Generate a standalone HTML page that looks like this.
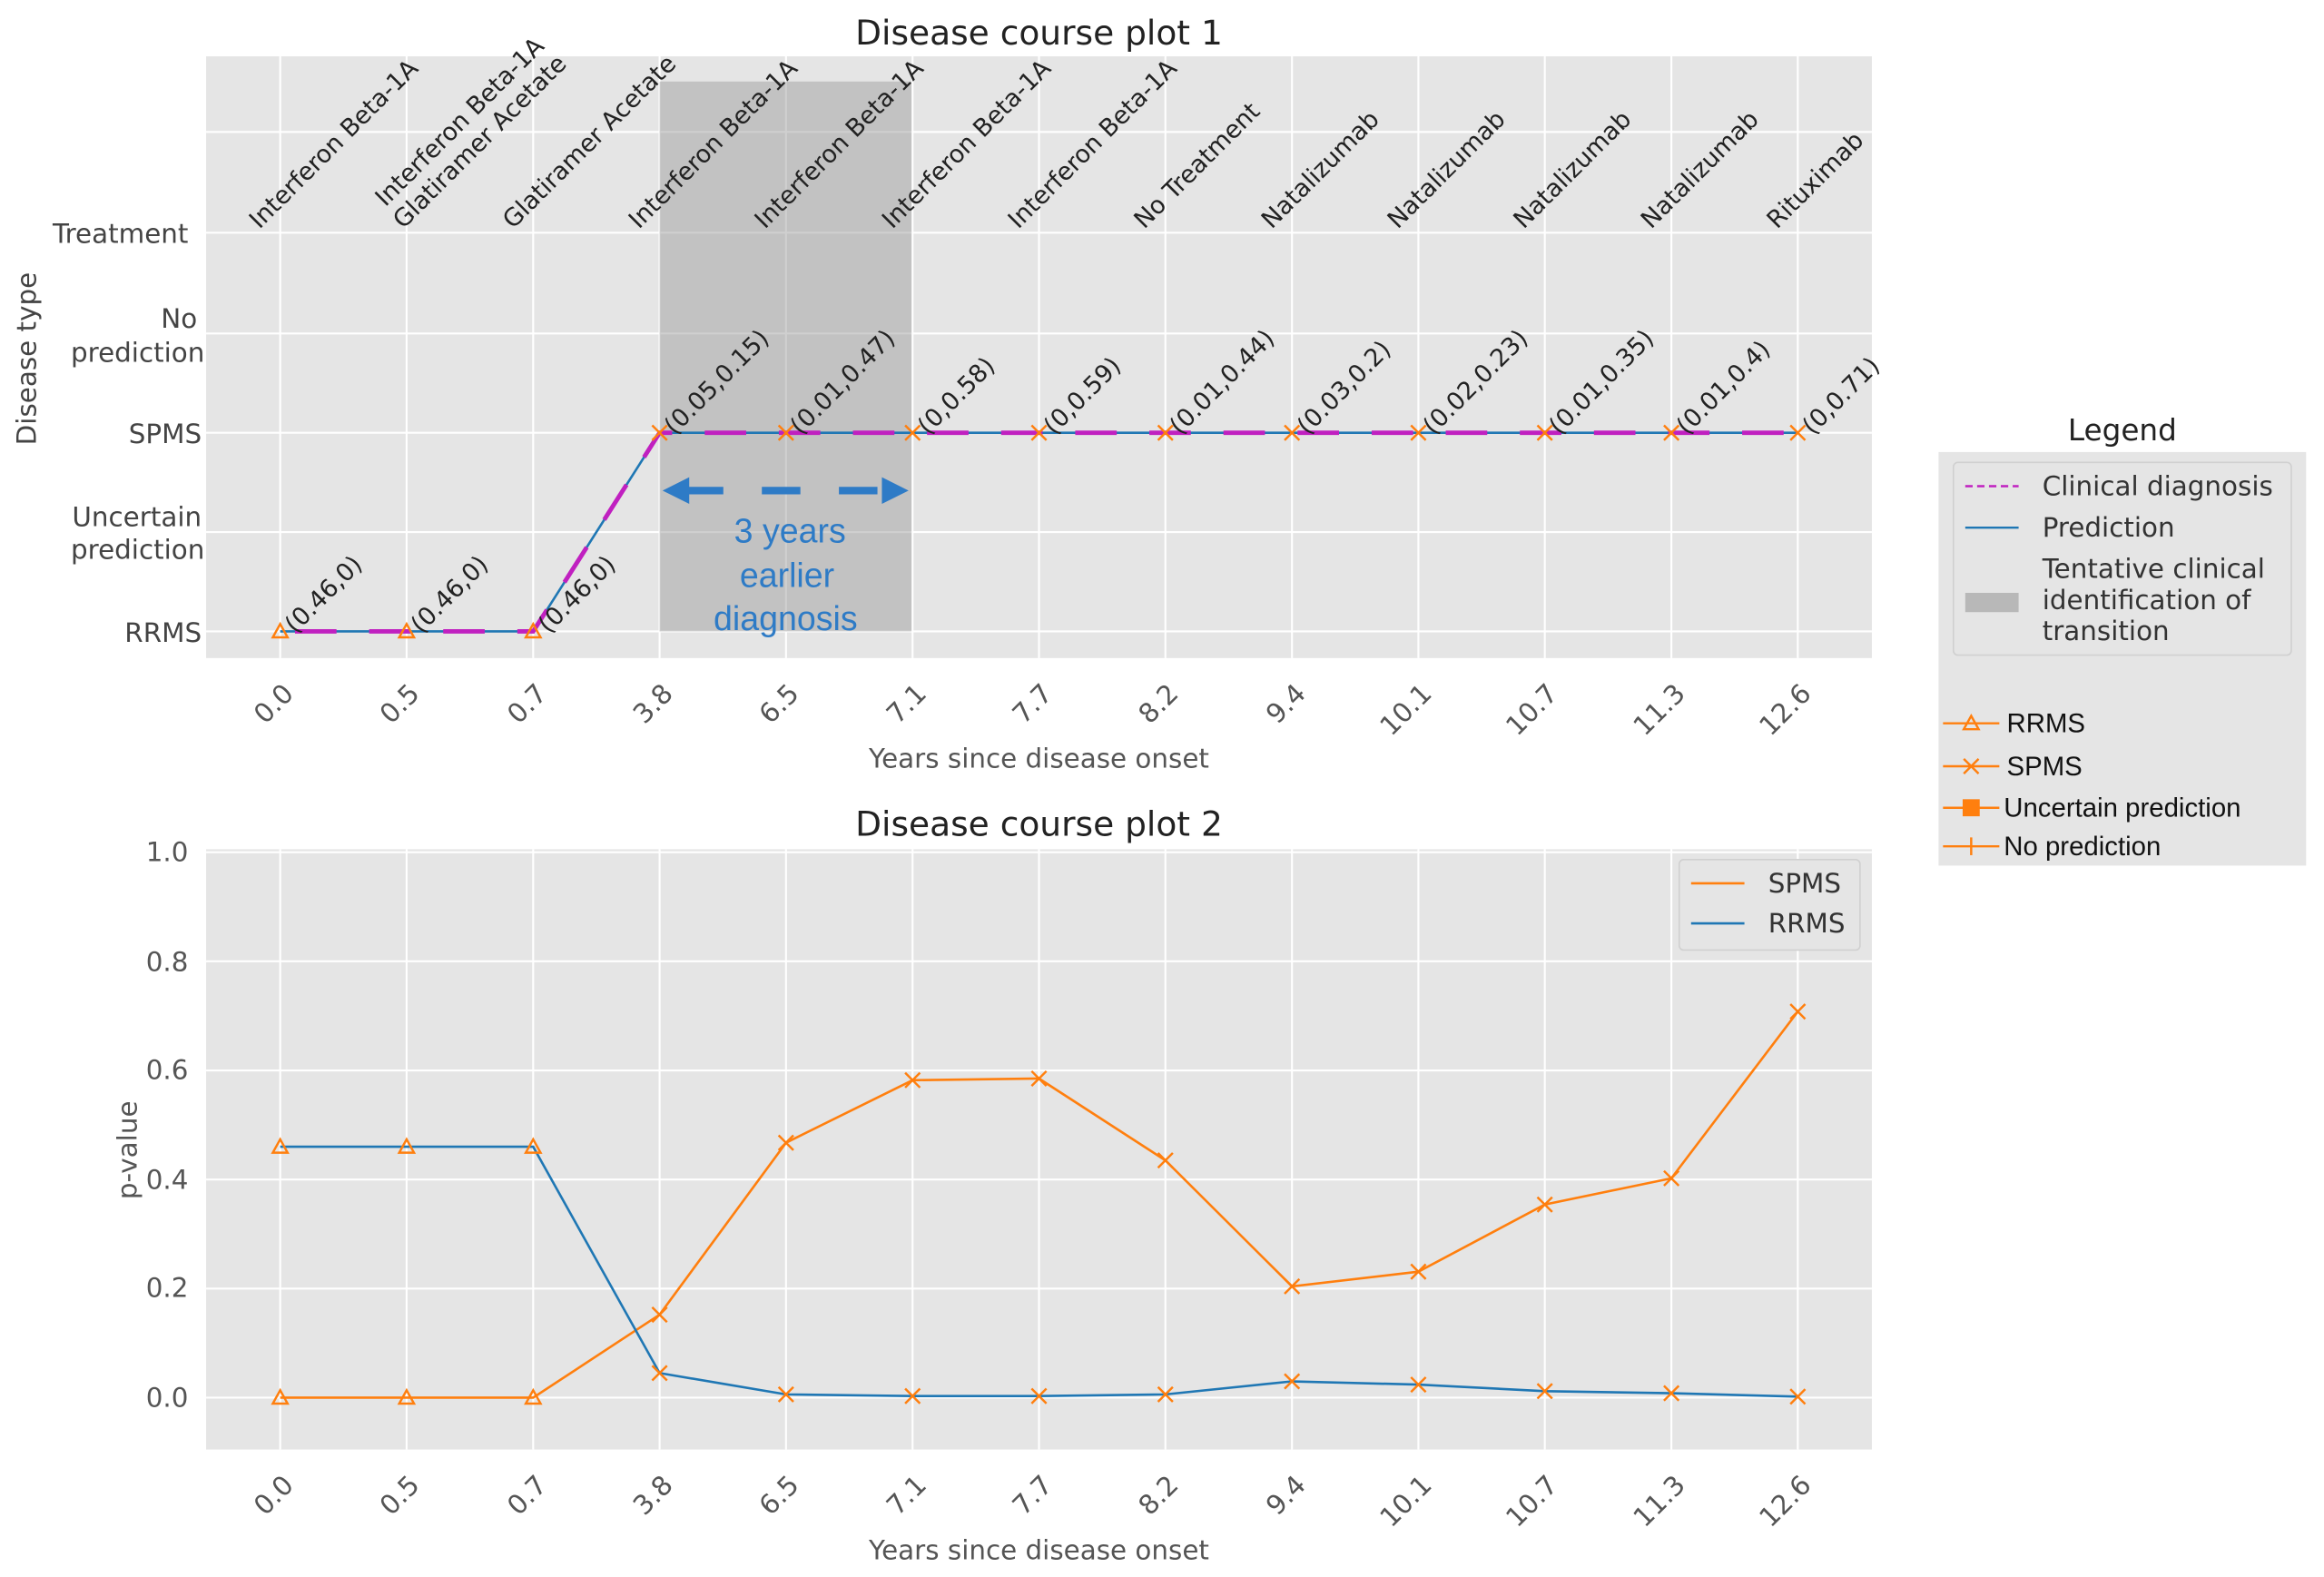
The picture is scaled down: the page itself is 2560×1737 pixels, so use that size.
<!DOCTYPE html>
<html><head><style>html,body{margin:0;padding:0;background:#fff}svg{display:block}</style></head><body>
<svg width="2560" height="1737" viewBox="0 0 1568 1064" xmlns="http://www.w3.org/2000/svg" font-family="DejaVu Sans, Liberation Sans, sans-serif">
<rect width="1568" height="1064" fill="#fff"/>
<!-- Plot 1 -->
<text x="701" y="30" font-size="23" text-anchor="middle" fill="#222">Disease course plot 1</text>
<rect x="139" y="38" width="1124" height="406" fill="#e5e5e5"/>
<g stroke="#fff" stroke-width="1.3">
<line x1="139" x2="1263" y1="89" y2="89"/><line x1="139" x2="1263" y1="157" y2="157"/><line x1="139" x2="1263" y1="225" y2="225"/><line x1="139" x2="1263" y1="292" y2="292"/><line x1="139" x2="1263" y1="359" y2="359"/><line x1="139" x2="1263" y1="426" y2="426"/>
<line x1="189" x2="189" y1="38" y2="444"/><line x1="274.3" x2="274.3" y1="38" y2="444"/><line x1="359.7" x2="359.7" y1="38" y2="444"/><line x1="445" x2="445" y1="38" y2="444"/><line x1="530.3" x2="530.3" y1="38" y2="444"/><line x1="615.7" x2="615.7" y1="38" y2="444"/><line x1="701" x2="701" y1="38" y2="444"/><line x1="786.3" x2="786.3" y1="38" y2="444"/><line x1="871.7" x2="871.7" y1="38" y2="444"/><line x1="957" x2="957" y1="38" y2="444"/><line x1="1042.3" x2="1042.3" y1="38" y2="444"/><line x1="1127.7" x2="1127.7" y1="38" y2="444"/><line x1="1213" x2="1213" y1="38" y2="444"/>
</g>
<rect x="445" y="55" width="170" height="371" fill="#a0a0a0" fill-opacity="0.5"/>
<g font-size="18" fill="#444" text-anchor="end">
<text x="127" y="164">Treatment</text>
<text x="133" y="221">No</text><text x="138" y="244">prediction</text>
<text x="136" y="299">SPMS</text>
<text x="136" y="355">Uncertain</text><text x="138" y="377">prediction</text>
<text x="136" y="433">RRMS</text>
</g>
<text transform="translate(24,242) rotate(-90)" font-size="18" fill="#444" text-anchor="middle">Disease type</text>
<g font-size="16.5" fill="#222">
<text transform="translate(175,155) rotate(-45)">Interferon Beta-1A</text>
<text transform="translate(260,140) rotate(-45)">Interferon Beta-1A</text>
<text transform="translate(272,155) rotate(-45)">Glatiramer Acetate</text>
<text transform="translate(346,155) rotate(-45)">Glatiramer Acetate</text>
<text transform="translate(431,155) rotate(-45)">Interferon Beta-1A</text>
<text transform="translate(516,155) rotate(-45)">Interferon Beta-1A</text>
<text transform="translate(602,155) rotate(-45)">Interferon Beta-1A</text>
<text transform="translate(687,155) rotate(-45)">Interferon Beta-1A</text>
<text transform="translate(772,155) rotate(-45)">No Treatment</text>
<text transform="translate(858,155) rotate(-45)">Natalizumab</text>
<text transform="translate(943,155) rotate(-45)">Natalizumab</text>
<text transform="translate(1028,155) rotate(-45)">Natalizumab</text>
<text transform="translate(1114,155) rotate(-45)">Natalizumab</text>
<text transform="translate(1199,155) rotate(-45)">Rituximab</text>
</g>
<polyline points="189,426 359.7,426 445,292 1213,292" fill="none" stroke="#1f77b4" stroke-width="1.6"/>
<polyline points="189,426 359.7,426 445,292 1213,292" fill="none" stroke="#c020c0" stroke-width="3" stroke-dasharray="28,22" stroke-dashoffset="-10"/>
<g fill="none" stroke="#ff7f0e" stroke-width="1.5">
<path d="M189,421 l5,9 h-10 z"/><path d="M274.3,421 l5,9 h-10 z"/><path d="M359.7,421 l5,9 h-10 z"/>
<path d="M-5,-5 L5,5 M-5,5 L5,-5" transform="translate(445,292)"/>
<path d="M-5,-5 L5,5 M-5,5 L5,-5" transform="translate(530.3,292)"/><path d="M-5,-5 L5,5 M-5,5 L5,-5" transform="translate(615.7,292)"/><path d="M-5,-5 L5,5 M-5,5 L5,-5" transform="translate(701,292)"/><path d="M-5,-5 L5,5 M-5,5 L5,-5" transform="translate(786.3,292)"/><path d="M-5,-5 L5,5 M-5,5 L5,-5" transform="translate(871.7,292)"/><path d="M-5,-5 L5,5 M-5,5 L5,-5" transform="translate(957,292)"/><path d="M-5,-5 L5,5 M-5,5 L5,-5" transform="translate(1042.3,292)"/><path d="M-5,-5 L5,5 M-5,5 L5,-5" transform="translate(1127.7,292)"/><path d="M-5,-5 L5,5 M-5,5 L5,-5" transform="translate(1213,292)"/>
</g>
<g font-size="16.5" fill="#222">
<text transform="translate(199,428) rotate(-45)">(0.46,0)</text>
<text transform="translate(284,428) rotate(-45)">(0.46,0)</text>
<text transform="translate(370,428) rotate(-45)">(0.46,0)</text>
<text transform="translate(455,294) rotate(-45)">(0.05,0.15)</text>
<text transform="translate(540,294) rotate(-45)">(0.01,0.47)</text>
<text transform="translate(626,294) rotate(-45)">(0,0.58)</text>
<text transform="translate(711,294) rotate(-45)">(0,0.59)</text>
<text transform="translate(796,294) rotate(-45)">(0.01,0.44)</text>
<text transform="translate(882,294) rotate(-45)">(0.03,0.2)</text>
<text transform="translate(967,294) rotate(-45)">(0.02,0.23)</text>
<text transform="translate(1052,294) rotate(-45)">(0.01,0.35)</text>
<text transform="translate(1138,294) rotate(-45)">(0.01,0.4)</text>
<text transform="translate(1223,294) rotate(-45)">(0,0.71)</text>
</g>
<line x1="462" y1="331" x2="597" y2="331" stroke="#2e7bc6" stroke-width="5" stroke-dasharray="26,26"/>
<path d="M447,331 L465,322 L465,340 Z M613,331 L595,322 L595,340 Z" fill="#2e7bc6"/>
<g font-size="23" fill="#2e7bc6" text-anchor="middle" font-family="Liberation Sans, sans-serif">
<text x="533" y="366">3 years</text><text x="531" y="396">earlier</text><text x="530" y="425">diagnosis</text>
</g>
<g font-size="18" fill="#555" text-anchor="end">
<text transform="translate(199,469) rotate(-45)">0.0</text>
<text transform="translate(284,469) rotate(-45)">0.5</text>
<text transform="translate(370,469) rotate(-45)">0.7</text>
<text transform="translate(455,469) rotate(-45)">3.8</text>
<text transform="translate(540,469) rotate(-45)">6.5</text>
<text transform="translate(626,469) rotate(-45)">7.1</text>
<text transform="translate(711,469) rotate(-45)">7.7</text>
<text transform="translate(796,469) rotate(-45)">8.2</text>
<text transform="translate(882,469) rotate(-45)">9.4</text>
<text transform="translate(967,469) rotate(-45)">10.1</text>
<text transform="translate(1052,469) rotate(-45)">10.7</text>
<text transform="translate(1138,469) rotate(-45)">11.3</text>
<text transform="translate(1223,469) rotate(-45)">12.6</text>
</g>
<text x="701" y="518" font-size="18" fill="#555" text-anchor="middle">Years since disease onset</text>
<text x="1432" y="297" font-size="20" fill="#222" text-anchor="middle">Legend</text>
<rect x="1308" y="305" width="248" height="279" fill="#e5e5e5"/>
<rect x="1318" y="312" width="228" height="130" fill="#e5e5e5" stroke="#d0d0d0" rx="3"/>
<line x1="1326" x2="1362" y1="328" y2="328" stroke="#c020c0" stroke-width="1.5" stroke-dasharray="5,3"/>
<line x1="1326" x2="1362" y1="356" y2="356" stroke="#1f77b4" stroke-width="1.5"/>
<rect x="1326" y="400" width="36" height="13" fill="#b8b8b8"/>
<g font-size="18" fill="#333">
<text x="1378" y="334">Clinical diagnosis</text><text x="1378" y="362">Prediction</text>
<text x="1378" y="390">Tentative clinical</text><text x="1378" y="411">identification of</text><text x="1378" y="432">transition</text>
</g>
<g stroke="#ff7f0e" stroke-width="1.5" fill="none">
<line x1="1311" x2="1349" y1="488" y2="488"/><path d="M1330,483 l5,9 h-10 z"/>
<line x1="1311" x2="1349" y1="517" y2="517"/><path d="M1325,512 L1335,522 M1325,522 L1335,512"/>
<line x1="1311" x2="1349" y1="545" y2="545"/><rect x="1325" y="540" width="10" height="10" fill="#ff7f0e"/>
<line x1="1311" x2="1349" y1="571" y2="571"/><path d="M1330,565 v12"/>
</g>
<g font-size="18" fill="#111" font-family="Liberation Sans, sans-serif">
<text x="1354" y="494">RRMS</text><text x="1354" y="523">SPMS</text><text x="1352" y="551">Uncertain prediction</text><text x="1352" y="577">No prediction</text>
</g>
<!-- Plot 2 -->
<text x="701" y="564" font-size="23" text-anchor="middle" fill="#222">Disease course plot 2</text>
<rect x="139" y="573" width="1124" height="405" fill="#e5e5e5"/>
<g stroke="#fff" stroke-width="1.3">
<line x1="139" x2="1263" y1="575" y2="575"/><line x1="139" x2="1263" y1="648.6" y2="648.6"/><line x1="139" x2="1263" y1="722.2" y2="722.2"/><line x1="139" x2="1263" y1="795.8" y2="795.8"/><line x1="139" x2="1263" y1="869.4" y2="869.4"/><line x1="139" x2="1263" y1="943" y2="943"/>
<line x1="189" x2="189" y1="573" y2="978"/><line x1="274.3" x2="274.3" y1="573" y2="978"/><line x1="359.7" x2="359.7" y1="573" y2="978"/><line x1="445" x2="445" y1="573" y2="978"/><line x1="530.3" x2="530.3" y1="573" y2="978"/><line x1="615.7" x2="615.7" y1="573" y2="978"/><line x1="701" x2="701" y1="573" y2="978"/><line x1="786.3" x2="786.3" y1="573" y2="978"/><line x1="871.7" x2="871.7" y1="573" y2="978"/><line x1="957" x2="957" y1="573" y2="978"/><line x1="1042.3" x2="1042.3" y1="573" y2="978"/><line x1="1127.7" x2="1127.7" y1="573" y2="978"/><line x1="1213" x2="1213" y1="573" y2="978"/>
</g>
<g font-size="18" fill="#555" text-anchor="end">
<text x="127" y="581">1.0</text><text x="127" y="655">0.8</text><text x="127" y="728">0.6</text><text x="127" y="802">0.4</text><text x="127" y="875">0.2</text><text x="127" y="949">0.0</text>
</g>
<text transform="translate(92,776) rotate(-90)" font-size="18" fill="#555" text-anchor="middle">p-value</text>
<polyline fill="none" stroke="#ff7f0e" stroke-width="1.6" points="189,943 274.3,943 359.7,943 445,887 530.3,771 615.7,728.8 701,727.7 786.3,782.9 871.7,867.9 957,858 1042.3,812.7 1127.7,795 1213,682.5"/>
<polyline fill="none" stroke="#1f77b4" stroke-width="1.6" points="189,773.7 274.3,773.7 359.7,773.7 445,926.4 530.3,940.8 615.7,941.9 701,941.9 786.3,940.8 871.7,932 957,934.2 1042.3,938.6 1127.7,940 1213,942.3"/>
<g fill="none" stroke="#ff7f0e" stroke-width="1.5">
<path d="M189,768.7 l5,9 h-10 z"/><path d="M274.3,768.7 l5,9 h-10 z"/><path d="M359.7,768.7 l5,9 h-10 z"/>
<path d="M189,938 l5,9 h-10 z"/><path d="M274.3,938 l5,9 h-10 z"/><path d="M359.7,938 l5,9 h-10 z"/>
<path d="M-5,-5 L5,5 M-5,5 L5,-5" transform="translate(445,887)"/><path d="M-5,-5 L5,5 M-5,5 L5,-5" transform="translate(530.3,771)"/><path d="M-5,-5 L5,5 M-5,5 L5,-5" transform="translate(615.7,728.8)"/><path d="M-5,-5 L5,5 M-5,5 L5,-5" transform="translate(701,727.7)"/><path d="M-5,-5 L5,5 M-5,5 L5,-5" transform="translate(786.3,782.9)"/><path d="M-5,-5 L5,5 M-5,5 L5,-5" transform="translate(871.7,867.9)"/><path d="M-5,-5 L5,5 M-5,5 L5,-5" transform="translate(957,858)"/><path d="M-5,-5 L5,5 M-5,5 L5,-5" transform="translate(1042.3,812.7)"/><path d="M-5,-5 L5,5 M-5,5 L5,-5" transform="translate(1127.7,795)"/><path d="M-5,-5 L5,5 M-5,5 L5,-5" transform="translate(1213,682.5)"/>
<path d="M-5,-5 L5,5 M-5,5 L5,-5" transform="translate(445,926.4)"/><path d="M-5,-5 L5,5 M-5,5 L5,-5" transform="translate(530.3,940.8)"/><path d="M-5,-5 L5,5 M-5,5 L5,-5" transform="translate(615.7,941.9)"/><path d="M-5,-5 L5,5 M-5,5 L5,-5" transform="translate(701,941.9)"/><path d="M-5,-5 L5,5 M-5,5 L5,-5" transform="translate(786.3,940.8)"/><path d="M-5,-5 L5,5 M-5,5 L5,-5" transform="translate(871.7,932)"/><path d="M-5,-5 L5,5 M-5,5 L5,-5" transform="translate(957,934.2)"/><path d="M-5,-5 L5,5 M-5,5 L5,-5" transform="translate(1042.3,938.6)"/><path d="M-5,-5 L5,5 M-5,5 L5,-5" transform="translate(1127.7,940)"/><path d="M-5,-5 L5,5 M-5,5 L5,-5" transform="translate(1213,942.3)"/>
</g>
<rect x="1133" y="580" width="122" height="61" fill="#e5e5e5" stroke="#d0d0d0" rx="3"/>
<line x1="1141" x2="1177" y1="596" y2="596" stroke="#ff7f0e" stroke-width="1.6"/>
<line x1="1141" x2="1177" y1="623" y2="623" stroke="#1f77b4" stroke-width="1.6"/>
<g font-size="18" fill="#333"><text x="1193" y="602">SPMS</text><text x="1193" y="629">RRMS</text></g>
<g font-size="18" fill="#555" text-anchor="end">
<text transform="translate(199,1003) rotate(-45)">0.0</text>
<text transform="translate(284,1003) rotate(-45)">0.5</text>
<text transform="translate(370,1003) rotate(-45)">0.7</text>
<text transform="translate(455,1003) rotate(-45)">3.8</text>
<text transform="translate(540,1003) rotate(-45)">6.5</text>
<text transform="translate(626,1003) rotate(-45)">7.1</text>
<text transform="translate(711,1003) rotate(-45)">7.7</text>
<text transform="translate(796,1003) rotate(-45)">8.2</text>
<text transform="translate(882,1003) rotate(-45)">9.4</text>
<text transform="translate(967,1003) rotate(-45)">10.1</text>
<text transform="translate(1052,1003) rotate(-45)">10.7</text>
<text transform="translate(1138,1003) rotate(-45)">11.3</text>
<text transform="translate(1223,1003) rotate(-45)">12.6</text>
</g>
<text x="701" y="1052" font-size="18" fill="#555" text-anchor="middle">Years since disease onset</text>
</svg>
</body></html>
